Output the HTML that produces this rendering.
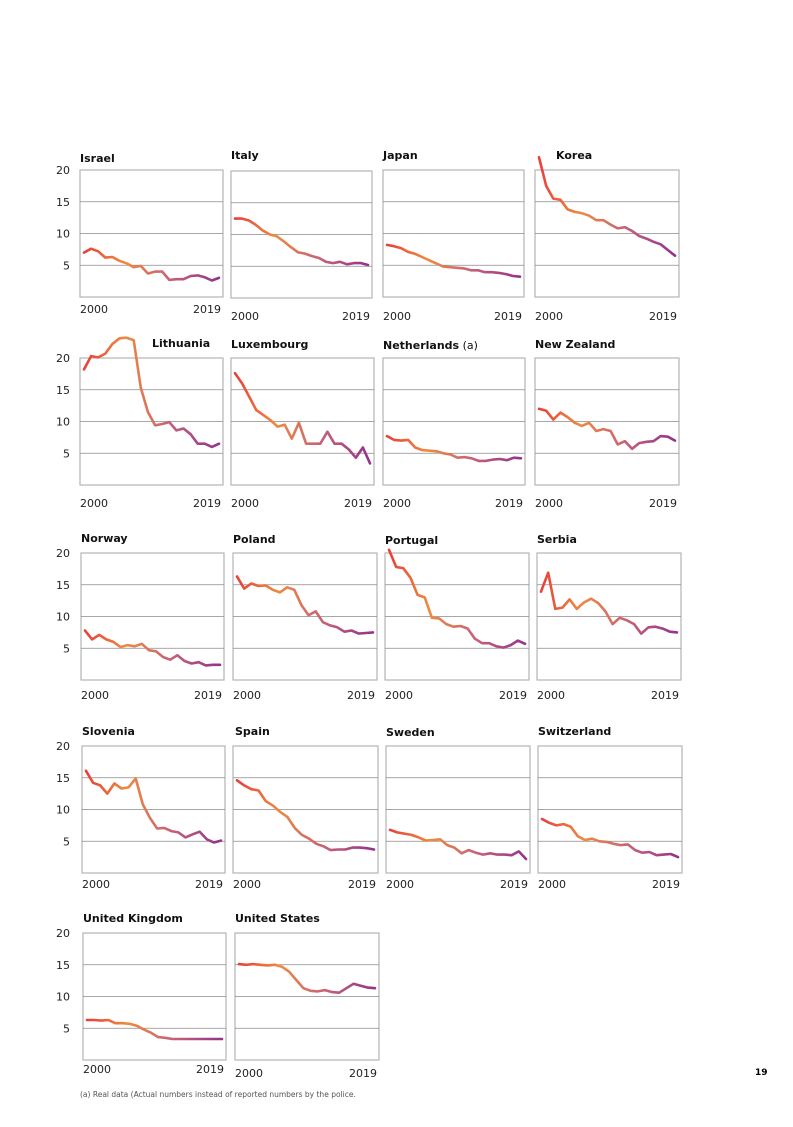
<!DOCTYPE html>
<html><head><meta charset="utf-8"><style>
html,body{margin:0;padding:0;background:#fff}
#page{position:relative;width:793px;height:1122px;font-family:"Liberation Sans",Verdana,sans-serif}
svg text{font-family:"DejaVu Sans","Liberation Sans",sans-serif}
</style></head><body>
<div id="page">
<svg id="chart" width="793" height="1122">
<defs>
<linearGradient id="lg" x1="0" x2="1" y1="0" y2="0">
<stop offset="0" stop-color="#e8403a"/><stop offset="0.3" stop-color="#ee8a40"/><stop offset="0.65" stop-color="#c4607a"/><stop offset="1" stop-color="#93338c"/>
</linearGradient>
</defs>
<text x="755" y="1075" font-size="9" font-weight="bold">19</text>
<text x="80" y="1097" font-size="7.5" fill="#555">(a) Real data (Actual numbers instead of reported numbers by the police.</text>
</svg>
</div>
<script>
const countries = ["Israel","Italy","Japan","Korea","Lithuania","Luxembourg","Netherlands","New Zealand","Norway","Poland","Portugal","Serbia","Slovenia","Spain","Sweden","Switzerland","United Kingdom","United States"];
const years = [2000,2001,2002,2003,2004,2005,2006,2007,2008,2009,2010,2011,2012,2013,2014,2015,2016,2017,2018,2019];
const yTicks = [5,10,15,20];
const xTickLabels = ["2000","2019"];
const israel = [7,7.6,7.2,6.2,6.3,5.7,5.3,4.7,4.9,3.7,4,4,2.7,2.8,2.8,3.3,3.4,3.1,2.6,3.0];
const italy = [12.5,12.5,12.2,11.5,10.6,10,9.7,8.9,8,7.2,7,6.6,6.3,5.7,5.5,5.7,5.3,5.5,5.5,5.2];
const japan = [8.2,8,7.7,7.1,6.8,6.3,5.8,5.3,4.8,4.7,4.6,4.5,4.2,4.2,3.9,3.9,3.8,3.6,3.3,3.2];
const korea = [22,17.5,15.5,15.3,13.8,13.4,13.2,12.8,12.1,12.1,11.4,10.8,11,10.4,9.6,9.2,8.7,8.3,7.4,6.5];
const lithuania = [18.2,20.3,20.1,20.7,22.2,23.1,23.2,22.8,15.3,11.5,9.4,9.6,9.9,8.6,8.9,8,6.5,6.5,6,6.5];
const luxembourg = [17.6,16,13.9,11.8,11,10.2,9.2,9.5,7.3,9.8,6.5,6.5,6.5,8.4,6.5,6.5,5.6,4.3,5.9,3.4];
const netherlands = [7.7,7.1,7,7.1,5.9,5.5,5.4,5.3,5,4.8,4.3,4.4,4.2,3.8,3.8,4,4.1,3.9,4.3,4.2];
const newZealand = [12,11.7,10.3,11.4,10.7,9.8,9.3,9.8,8.5,8.8,8.5,6.4,6.9,5.7,6.6,6.8,6.9,7.7,7.6,7];
const norway = [7.8,6.4,7.1,6.4,6,5.2,5.5,5.3,5.7,4.7,4.5,3.6,3.2,3.9,3,2.6,2.8,2.3,2.4,2.4];
const poland = [16.3,14.4,15.2,14.8,14.9,14.2,13.8,14.6,14.2,11.8,10.2,10.8,9.1,8.6,8.3,7.6,7.8,7.3,7.4,7.5];
const portugal = [20.5,17.8,17.6,16.1,13.4,13,9.8,9.7,8.8,8.4,8.5,8.1,6.5,5.8,5.8,5.3,5.1,5.5,6.2,5.7];
const serbia = [13.9,16.9,11.2,11.4,12.7,11.2,12.2,12.8,12.1,10.8,8.8,9.8,9.4,8.8,7.3,8.3,8.4,8.1,7.6,7.5];
const slovenia = [16.1,14.2,13.8,12.5,14.1,13.3,13.5,14.9,10.8,8.7,7,7.1,6.6,6.4,5.6,6.1,6.5,5.3,4.8,5.1];
const spain = [14.6,13.8,13.2,13,11.3,10.6,9.6,8.8,7.1,6,5.4,4.6,4.2,3.6,3.7,3.7,4,4,3.9,3.7];
const sweden = [6.8,6.4,6.2,6,5.6,5.1,5.2,5.3,4.4,4,3.1,3.6,3.2,2.9,3.1,2.9,2.9,2.8,3.4,2.2];
const switzerland = [8.5,7.9,7.5,7.7,7.3,5.8,5.2,5.4,5,4.9,4.6,4.4,4.5,3.6,3.2,3.3,2.8,2.9,3,2.5];
const unitedKingdom = [6.3,6.3,6.2,6.3,5.8,5.8,5.7,5.4,4.8,4.3,3.6,3.5,3.3,3.3,3.3,3.3,3.3,3.3,3.3,3.3];
const unitedStates = [15.1,15,15.1,15,14.9,15,14.7,13.9,12.6,11.3,10.9,10.8,11,10.7,10.6,11.3,12,11.7,11.4,11.3];
const series = [israel,italy,japan,korea,lithuania,luxembourg,netherlands,newZealand,norway,poland,portugal,serbia,slovenia,spain,sweden,switzerland,unitedKingdom,unitedStates];

// layout: [boxX, boxY, boxW, titleX, titleY, xlabelY]
const layout = [
 [80,170,143,80,162,313],[231,171,141,231,159,320],[383,170,141,383,159,320],[535,170,144,556,159,320],
 [80,358,143,152,347,507],[231,358,143,231,348,507],[383,358,142,383,349,507],[535,358,144,535,348,507],
 [81,553,143,81,542,699],[233,553,144,233,543,699],[385,553,144,385,544,699],[537,553,144,537,543,699],
 [82,746,143,82,735,888],[233,746,145,235,735,888],[386,746,144,386,736,888],[538,746,144,538,735,888],
 [83,933,143,83,922,1073],[235,933,144,235,922,1077]
];
const H = 127;
const NS = "http://www.w3.org/2000/svg";
const svg = document.getElementById('chart');
function mk(tag, attrs, parent){const e=document.createElementNS(NS,tag);for(const k in attrs)e.setAttribute(k,attrs[k]);(parent||svg).appendChild(e);return e;}
countries.forEach((name,i)=>{
  const [bx,by,bw,tx,ty,ly]=layout[i];
  const g=mk('g',{});
  
  
  const yS=v=>by+H-v*(H/20);
  const xS=k=>bx+4+k*(bw-8)/(years.length-1);
  const rect=mk('rect',{x:bx,y:by,width:bw,height:H,fill:'none',stroke:'#b5b5b5','stroke-width':1.2},g);
  
  
  yTicks.slice(0,3).forEach(t=>{
    const l=mk('line',{x1:bx,x2:bx+bw,y1:yS(t),y2:yS(t),stroke:'#8a8a8a','stroke-width':0.8},g);
    
    
  });
  if(i%4===0){
    yTicks.forEach(t=>{
      const tl=mk('text',{x:70,y:yS(t)+4,'font-size':11,'text-anchor':'end',fill:'#222'},g);
      tl.textContent=t;
      
      
    });
  }
  const t=mk('text',{x:tx,y:ty,'font-size':11,'font-weight':'bold',fill:'#111'},g);
  t.textContent=name;
  
  
  if(name==='Netherlands'){
    const a=mk('tspan',{'font-weight':'normal'},t);a.textContent='  (a)';
  }
  const l1=mk('text',{x:bx,y:ly,'font-size':11,fill:'#222'},g);l1.textContent=xTickLabels[0];
  
  
  const l2=mk('text',{x:bx+bw-2,y:ly,'font-size':11,'text-anchor':'end',fill:'#222'},g);l2.textContent=xTickLabels[1];
  
  
  const d=series[i].map((v,k)=>(k?'L':'M')+xS(k).toFixed(1)+' '+yS(v).toFixed(1)).join(' ');
  const p=mk('path',{d:d,fill:'none',stroke:'url(#lg)','stroke-width':2.6,'stroke-linejoin':'round','stroke-linecap':'round'},g);
  
  
});
</script>
</body></html>
